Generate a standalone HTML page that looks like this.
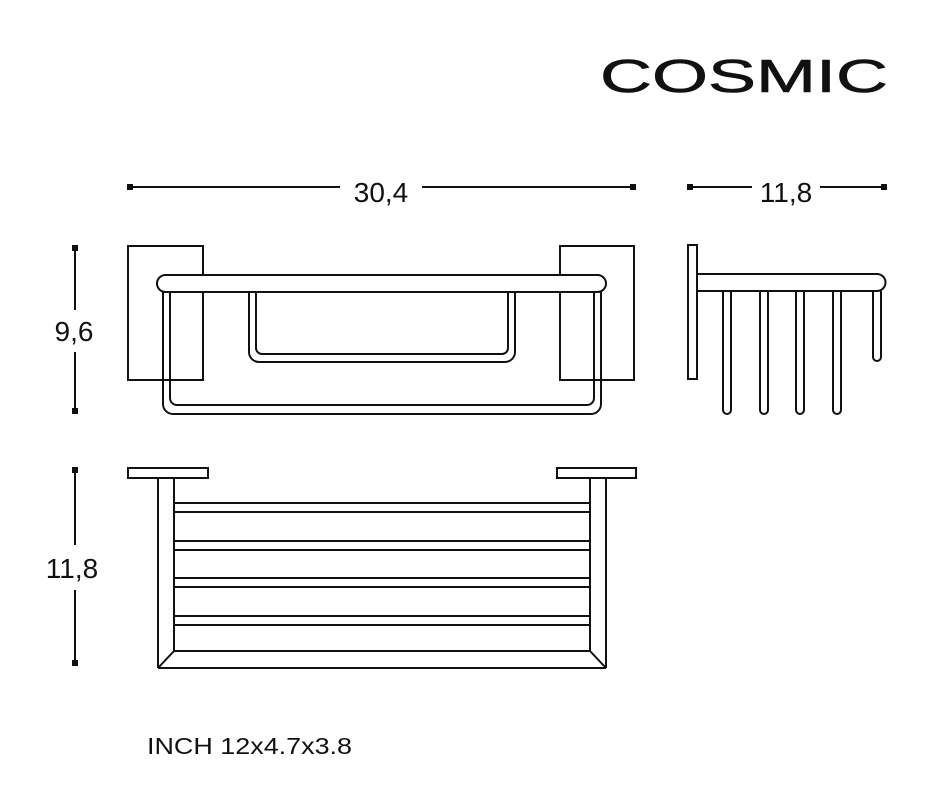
<!DOCTYPE html>
<html><head><meta charset="utf-8"><style>
html,body{margin:0;padding:0;background:#fff;}
svg{display:block;}
text{font-family:"Liberation Sans",sans-serif;fill:#111;}
</style></head><body>
<svg width="951" height="802" viewBox="0 0 951 802" xmlns="http://www.w3.org/2000/svg">
<text x="600" y="92" font-size="46" textLength="288" lengthAdjust="spacingAndGlyphs" style="stroke:#111;stroke-width:0.6">COSMIC</text>

<g stroke="#111" stroke-width="2" fill="none">
<line x1="130" y1="187" x2="340" y2="187"/>
<line x1="422" y1="187" x2="633" y2="187"/>
<line x1="690" y1="187" x2="752" y2="187"/>
<line x1="820" y1="187" x2="884" y2="187"/>
<line x1="75" y1="248" x2="75" y2="310"/>
<line x1="75" y1="352" x2="75" y2="411"/>
<line x1="75" y1="470" x2="75" y2="545"/>
<line x1="75" y1="590" x2="75" y2="663"/>
</g>
<g fill="#111">
<rect x="127" y="184" width="6" height="6"/><rect x="630" y="184" width="6" height="6"/>
<rect x="687" y="184" width="6" height="6"/><rect x="881" y="184" width="6" height="6"/>
<rect x="72" y="245" width="6" height="6"/><rect x="72" y="408" width="6" height="6"/>
<rect x="72" y="467" width="6" height="6"/><rect x="72" y="660" width="6" height="6"/>
</g>
<text x="381" y="202" font-size="28" text-anchor="middle">30,4</text>
<text x="786" y="202" font-size="28" text-anchor="middle">11,8</text>
<text x="74" y="341" font-size="28" text-anchor="middle">9,6</text>
<text x="72" y="578" font-size="28" text-anchor="middle">11,8</text>
<text x="147" y="754" font-size="23" textLength="205" lengthAdjust="spacingAndGlyphs">INCH 12x4.7x3.8</text>

<g stroke="#111" stroke-width="2" fill="none">
<rect x="128" y="246" width="75" height="134"/>
<rect x="560" y="246" width="74" height="134"/>
<path d="M163 292 V404 a10 10 0 0 0 10 10 H591 a10 10 0 0 0 10 -10 V292"/>
<path d="M170 292 V398 a7 7 0 0 0 7 7 H587 a7 7 0 0 0 7 -7 V292"/>
<path d="M249 292 V352 a10 10 0 0 0 10 10 H505 a10 10 0 0 0 10 -10 V292"/>
<path d="M256 292 V348 a6 6 0 0 0 6 6 H502 a6 6 0 0 0 6 -6 V292"/>
<rect x="157" y="275" width="449" height="17" rx="8.5" fill="#fff"/>

<rect x="688" y="245" width="9" height="134"/>
<path d="M697 274 H877 a8.5 8.5 0 0 1 0 17 H697"/>
<path d="M723 291 V410 a4 4 0 0 0 8 0 V291"/>
<path d="M760 291 V410 a4 4 0 0 0 8 0 V291"/>
<path d="M796 291 V410 a4 4 0 0 0 8 0 V291"/>
<path d="M833 291 V410 a4 4 0 0 0 8 0 V291"/>
<path d="M873 291 V357 a4 4 0 0 0 8 0 V291"/>

<rect x="128" y="468" width="80" height="10"/>
<rect x="557" y="468" width="79" height="10"/>
<line x1="158" y1="478" x2="158" y2="668"/>
<line x1="174" y1="478" x2="174" y2="651"/>
<line x1="590" y1="478" x2="590" y2="651"/>
<line x1="606" y1="478" x2="606" y2="668"/>
<line x1="158" y1="668" x2="606" y2="668"/>
<line x1="174" y1="651" x2="590" y2="651"/>
<line x1="158" y1="668" x2="174" y2="651"/>
<line x1="606" y1="668" x2="590" y2="651"/>
<rect x="174" y="503" width="416" height="9"/>
<rect x="174" y="541" width="416" height="9"/>
<rect x="174" y="578" width="416" height="9"/>
<rect x="174" y="616" width="416" height="9"/>
</g>
</svg>
</body></html>
